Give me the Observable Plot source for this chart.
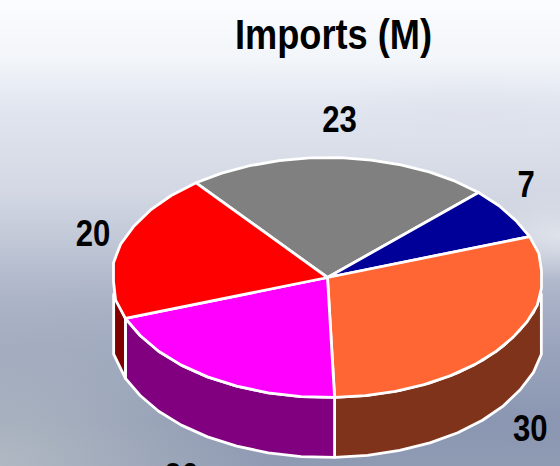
<!DOCTYPE html>
<html><head><meta charset="utf-8">
<script src="https://cdn.jsdelivr.net/npm/d3@7"></script>
<script src="https://cdn.jsdelivr.net/npm/@observablehq/plot@0.6"></script>
<style>
html,body{margin:0;padding:0;overflow:hidden;width:560px;height:466px}
</style></head><body>
<div id="c"></div>
<script>
const slices = ["Gray","Blue","Orange","Magenta","Red"];
const values = [23, 7, 30, 20, 20];
const topColors = ["#808080","#000099","#ff6633","#ff00ff","#ff0000"];
const sideColors = ["#404040","#00004d","#7f331a","#800080","#800000"];
const titleText = "Imports (M)";

const W = 560, H = 466, cx = 327, cy = 277, rx = 214, ry = 120, depth = 60, startDeg = -37.9, stepDeg = 8.5;
const total = d3.sum(values);
let acc = startDeg;
const arcs = values.map((v,i)=>{const a0=acc; acc+=v/total*360; return {i,a0,a1:acc,mid:(a0+acc)/2};});
const rad = d=>d*Math.PI/180;
// The reference's outline is flattened where the ellipse meets its left and right extremes.
const px = d=>{const s=Math.sin(rad(d)),m=Math.abs(s);return Math.sign(s)*Math.min(1,m+0.01*Math.max(0,(m-.9)/.1));};
const py = d=>Math.cos(rad(d));
function sweep(a0,a1){const n=Math.max(1,Math.round((a1-a0)/stepDeg)),o=[];for(let k=0;k<=n;k++)o.push(a0+(a1-a0)*k/n);return o;}
const dz = depth/ry;

const tops = arcs.flatMap(s=>{
  const pts=[[0,0],...sweep(s.a0,s.a1).map(a=>[px(a),py(a)]),[0,0]];
  return pts.map(([x,y])=>({x,y,z:slices[s.i],fill:topColors[s.i]}));
});
const sides = arcs.flatMap(s=>{
  const lo=Math.max(s.a0,98), hi=Math.min(s.a1,262);
  if(hi<=lo) return [];
  const a=sweep(lo,hi);
  const pts=[...a.map(t=>[px(t),py(t)]),...a.slice().reverse().map(t=>[px(t),py(t)-dz])];
  pts.push(pts[0]);
  return pts.map(([x,y])=>({x,y,z:slices[s.i],fill:sideColors[s.i]}));
});
const nudge=[[-3,3],[-9,-6],[-1,2],[-8,8],[2,1]];
const labels = arcs.map(s=>{
  const lower=py(s.mid)<0, sx=Math.sin(rad(s.mid));
  return {x:sx*1.15+nudge[s.i][0]/rx, y:py(s.mid)*1.333-(lower?dz:0)-nudge[s.i][1]/ry, t:String(values[s.i])};
});
const common={x:"x",y:"y",z:"z",fill:"fill",stroke:"white",strokeWidth:2.8,strokeLinejoin:"round"};
const bg=[
 "radial-gradient(ellipse 280px 210px at 0px 466px, rgba(184,192,198,.8), rgba(184,192,198,0))",
 "radial-gradient(ellipse 110px 45px at 560px 235px, rgba(228,231,238,.85), rgba(228,231,238,0))",
 "radial-gradient(ellipse 150px 50px at 470px 120px, rgba(222,224,234,.5), rgba(222,224,234,0))",
 "linear-gradient(180deg,#fbfcfe 0px,#f2f5f9 60px,#e0e5ef 110px,#d2d7e3 195px,#bfc6d5 245px,#abb3c8 295px,#99a3bc 350px,#8b97b2 420px,#8f9ab3 466px)"
].join(",");
const chart = Plot.plot({
  width:W,height:H,margin:0,
  style:{background:bg,overflow:"hidden"},
  x:{domain:[-cx/rx,(W-cx)/rx],range:[0,W],axis:null},
  y:{domain:[cy/ry,(cy-H)/ry],range:[0,H],axis:null},
  color:{type:"identity"},
  marks:[
    Plot.line(sides,common),
    Plot.line(tops,common),
    Plot.text(labels,{x:"x",y:"y",text:"t",fontSize:36,fill:"black",fontFamily:"'Liberation Sans',Arial,sans-serif",fontWeight:700,className:"lbl"}),
    Plot.text([titleText],{x:[(333-cx)/rx],y:[(cy-35)/ry],text:d=>d,fontSize:43,fill:"black",fontFamily:"'Liberation Sans',Arial,sans-serif",fontWeight:700,className:"ttl"})
  ]
});
// The reference's bold type is horizontally condensed.
chart.querySelectorAll(".lbl text").forEach(t=>{t.setAttribute("textLength",t.textContent.length*17.3);t.setAttribute("lengthAdjust","spacingAndGlyphs");});
chart.querySelectorAll(".ttl text").forEach(t=>{t.setAttribute("textLength",197);t.setAttribute("lengthAdjust","spacingAndGlyphs");});
document.getElementById("c").append(chart);
</script></body></html>
